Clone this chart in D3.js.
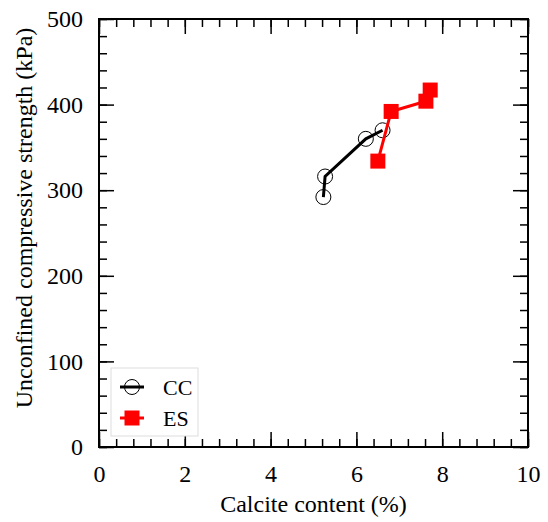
<!DOCTYPE html>
<html>
<head>
<meta charset="utf-8">
<script src="https://cdn.jsdelivr.net/npm/d3@7"></script>
<style>
  body { margin: 0; background: #fff; }
</style>
</head>
<body>
<svg id="chart" width="548" height="522"></svg>
<script>
// data
const ccCalcite = [5.23, 5.27, 6.22, 6.61];
const ccUcs = [292, 316, 360, 370];
const esCalcite = [6.50, 6.81, 7.62, 7.72];
const esUcs = [334, 392, 404, 417];
const xTicks = [0, 2, 4, 6, 8, 10];
const yTicks = [0, 100, 200, 300, 400, 500];

const FONT = "Liberation Serif";

const svg = d3.select("#chart");
const plotL = 99, plotR = 528, plotT = 19, plotB = 447;

let x = d3.scaleLinear().domain([0, 10]).range([plotL, plotR]);
let y = d3.scaleLinear().domain([0, 500]).range([plotB, plotT]);

// minor ticks on all sides
const minorX = d3.range(0, 10.01, 0.4);
const minorY = d3.range(0, 500.1, 20);

function styleAxis(g) {
  g.attr("font-family", FONT).attr("font-size", 24);
  g.select(".domain").remove();
  g.selectAll("line").attr("stroke", "#000").attr("stroke-width", 1.5);
  g.selectAll("text").attr("fill", "#000").attr("font-family", FONT);
}

svg.append("g").attr("transform", `translate(0,${plotB})`)
  .call(d3.axisBottom(x).tickValues(minorX).tickSize(-8).tickFormat(""))
  .call(styleAxis);
svg.append("g").attr("transform", `translate(0,${plotT})`)
  .call(d3.axisTop(x).tickValues(minorX).tickSize(-8).tickFormat(""))
  .call(styleAxis);
svg.append("g").attr("transform", `translate(${plotL},0)`)
  .call(d3.axisLeft(y).tickValues(minorY).tickSize(-8).tickFormat(""))
  .call(styleAxis);
svg.append("g").attr("transform", `translate(${plotR},0)`)
  .call(d3.axisRight(y).tickValues(minorY).tickSize(-8).tickFormat(""))
  .call(styleAxis);

// major ticks + labels
svg.append("g").attr("transform", `translate(0,${plotB})`)
  .call(d3.axisBottom(x).tickValues(xTicks).tickSize(-15).tickPadding(18).tickFormat(d3.format("d")))
  .call(styleAxis);
svg.append("g").attr("transform", `translate(0,${plotT})`)
  .call(d3.axisTop(x).tickValues(xTicks).tickSize(-15).tickFormat(""))
  .call(styleAxis);
svg.append("g").attr("transform", `translate(${plotL},0)`)
  .call(d3.axisLeft(y).tickValues(yTicks).tickSize(-15).tickPadding(16).tickFormat(d3.format("d")))
  .call(styleAxis);
svg.append("g").attr("transform", `translate(${plotR},0)`)
  .call(d3.axisRight(y).tickValues(yTicks).tickSize(-15).tickFormat(""))
  .call(styleAxis);

// frame
svg.append("rect")
  .attr("x", plotL).attr("y", plotT)
  .attr("width", plotR - plotL).attr("height", plotB - plotT)
  .attr("fill", "none").attr("stroke", "#000").attr("stroke-width", 2);

// axis titles
svg.append("text")
  .attr("x", (plotL + plotR) / 2).attr("y", 512)
  .attr("text-anchor", "middle")
  .attr("font-family", FONT).attr("font-size", 24)
  .text("Calcite content (%)");
svg.append("text")
  .attr("transform", "translate(32,218) rotate(-90)")
  .attr("text-anchor", "middle")
  .attr("font-family", FONT).attr("font-size", 24)
  .text("Unconfined compressive strength (kPa)");

let line = d3.line().x(d => x(d[0])).y(d => y(d[1]));
const cc = ccCalcite.map((v, i) => [v, ccUcs[i]]);
const es = esCalcite.map((v, i) => [v, esUcs[i]]);

// CC series
svg.append("path").datum(cc)
  .attr("d", line)
  .attr("fill", "none").attr("stroke", "#000").attr("stroke-width", 3);
svg.selectAll(".cc").data(cc).enter().append("circle")
  .attr("class", "cc")
  .attr("cx", d => x(d[0])).attr("cy", d => y(d[1]))
  .attr("r", 7.5)
  .attr("fill", "none").attr("stroke", "#000").attr("stroke-width", 1);

// ES series
svg.append("path").datum(es)
  .attr("d", line)
  .attr("fill", "none").attr("stroke", "red").attr("stroke-width", 3);
svg.selectAll(".es").data(es).enter().append("rect")
  .attr("class", "es")
  .attr("x", d => x(d[0]) - 7.5).attr("y", d => y(d[1]) - 7.5)
  .attr("width", 15).attr("height", 15)
  .attr("fill", "red");

// legend
const lg = svg.append("g").attr("font-family", FONT);
lg.append("rect")
  .attr("x", 111).attr("y", 368).attr("width", 87).attr("height", 68)
  .attr("fill", "#fff").attr("stroke", "#ddd").attr("stroke-width", 1);
lg.append("line").attr("x1", 120).attr("x2", 144).attr("y1", 387).attr("y2", 387)
  .attr("stroke", "#000").attr("stroke-width", 3);
lg.append("circle").attr("cx", 132).attr("cy", 387).attr("r", 7.5)
  .attr("fill", "none").attr("stroke", "#000");
lg.append("text").attr("x", 163).attr("y", 395).attr("font-size", 22).text("CC");
lg.append("line").attr("x1", 120).attr("x2", 144).attr("y1", 418).attr("y2", 418)
  .attr("stroke", "red").attr("stroke-width", 3);
lg.append("rect").attr("x", 124.5).attr("y", 410.5).attr("width", 15).attr("height", 15)
  .attr("fill", "red");
lg.append("text").attr("x", 163).attr("y", 426).attr("font-size", 22).text("ES");
</script>
</body>
</html>
